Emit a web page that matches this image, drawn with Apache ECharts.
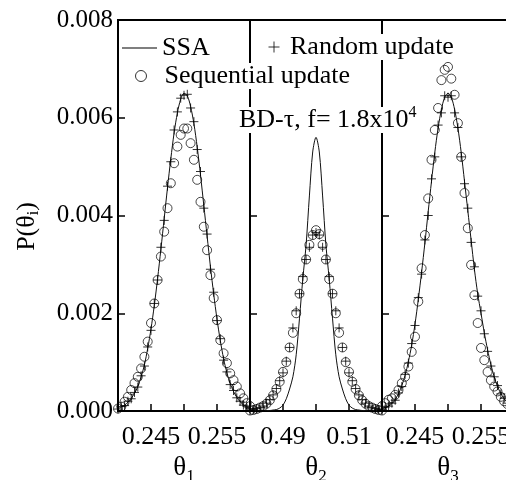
<!DOCTYPE html>
<html><head><meta charset="utf-8">
<script src="https://cdn.jsdelivr.net/npm/echarts@6/dist/echarts.min.js"></script>
<style>html,body{margin:0;padding:0;background:#fff}#c{width:506px;height:480px}</style>
</head><body><div id="c"></div>
<script>
// theta grids
const theta13 = [0.2400,0.2405,0.2410,0.2415,0.2420,0.2425,0.2430,0.2435,0.2440,0.2445,0.2450,0.2455,0.2460,0.2465,0.2470,0.2475,0.2480,0.2485,0.2490,0.2495,0.2500,0.2505,0.2510,0.2515,0.2520,0.2525,0.2530,0.2535,0.2540,0.2545,0.2550,0.2555,0.2560,0.2565,0.2570,0.2575,0.2580,0.2585,0.2590,0.2595,0.2600];
const theta2 = [0.480,0.481,0.482,0.483,0.484,0.485,0.486,0.487,0.488,0.489,0.490,0.491,0.492,0.493,0.494,0.495,0.496,0.497,0.498,0.499,0.500,0.501,0.502,0.503,0.504,0.505,0.506,0.507,0.508,0.509,0.510,0.511,0.512,0.513,0.514,0.515,0.516,0.517,0.518,0.519,0.520];

// panel 1 (theta_1)
const ssa1 = [0.00005,0.00008,0.00012,0.00018,0.00026,0.00036,0.0005,0.0007,0.00094,0.00128,0.00168,0.00216,0.00271,0.00331,0.00394,0.00457,0.00516,0.00569,0.0061,0.00638,0.0065,0.00645,0.00623,0.00588,0.0054,0.00483,0.00421,0.00358,0.00296,0.00239,0.00188,0.00144,0.00107,0.00078,0.00056,0.0004,0.00028,0.00019,0.00013,0.00009,0.00006];
const rand1 = [0.00004,0.00009,0.00011,0.0002,0.00025,0.00038,0.00049,0.00072,0.00092,0.00131,0.00165,0.0022,0.00268,0.00335,0.0039,0.0046,0.0051,0.00575,0.00612,0.0064,0.00646,0.00648,0.0062,0.00592,0.00535,0.0049,0.00415,0.00362,0.0029,0.00243,0.00185,0.00148,0.00104,0.0008,0.00054,0.00042,0.00027,0.0002,0.00012,0.0001,0.00005];
const seq1 = [0.00005,0.00009,0.00019,0.00029,0.00043,0.00057,0.0007,0.00087,0.00111,0.00142,0.0018,0.0022,0.00268,0.00316,0.00367,0.00415,0.00466,0.00507,0.00541,0.00565,0.00578,0.00578,0.00548,0.00514,0.00473,0.00428,0.00377,0.00329,0.00278,0.00231,0.00186,0.00145,0.00118,0.00098,0.00077,0.00063,0.0005,0.00036,0.00026,0.00016,0.0001];

// panel 2 (theta_2)
const ssa2 = [0.00001,0.00001,0.00001,0.00001,0.00001,0.00001,0.00001,0.00002,0.00003,0.00006,0.00012,0.00025,0.00045,0.0007,0.00115,0.0019,0.0027,0.0034,0.0044,0.0053,0.0056,0.0053,0.0044,0.0034,0.0027,0.0019,0.00115,0.0007,0.00045,0.00025,0.00012,0.00006,0.00003,0.00002,0.00001,0.00001,0.00001,0.00001,0.00001,0.00001,0.00001];
const rand2 = [0.00001,0.00003,0.00005,0.00007,0.0001,0.00016,0.00023,0.00033,0.00046,0.00062,0.00078,0.00102,0.0013,0.0017,0.00205,0.0024,0.00275,0.0031,0.00335,0.0036,0.00365,0.0036,0.00335,0.0031,0.00275,0.0024,0.00205,0.0017,0.0013,0.00102,0.00078,0.00062,0.00046,0.00033,0.00023,0.00016,0.0001,0.00007,0.00005,0.00003,0.00001];
const seq2 = [0.00001,0.00002,0.00004,0.00007,0.0001,0.00015,0.00022,0.00032,0.00045,0.0006,0.0008,0.001,0.0013,0.0016,0.002,0.0024,0.0027,0.0031,0.0034,0.0036,0.0037,0.00362,0.0034,0.0031,0.0027,0.0024,0.002,0.0016,0.0013,0.001,0.0008,0.0006,0.00045,0.00032,0.00022,0.00015,0.0001,0.00007,0.00004,0.00002,0.00001];

// panel 3 (theta_3)
const ssa3 = [0.00005,0.00007,0.0001,0.00015,0.00024,0.00035,0.00052,0.00073,0.00101,0.00135,0.00178,0.00228,0.00284,0.00344,0.00408,0.0047,0.00529,0.00579,0.00617,0.00642,0.0065,0.00642,0.00617,0.00579,0.00529,0.0047,0.0041,0.0035,0.0029,0.0024,0.002,0.0016,0.00125,0.00095,0.0007,0.0005,0.00036,0.00025,0.00017,0.00011,0.00007];
const rand3 = [0.00004,0.00008,0.0001,0.00016,0.00022,0.00037,0.0005,0.00075,0.00098,0.00138,0.00175,0.00232,0.0028,0.0035,0.004,0.00475,0.0052,0.00585,0.0061,0.00645,0.00642,0.00645,0.0061,0.0058,0.0052,0.00465,0.00415,0.00345,0.00295,0.00235,0.00205,0.00158,0.00122,0.00092,0.0007,0.00052,0.00035,0.00026,0.00016,0.00012,0.00007];
const seq3 = [0.0001,0.00016,0.00023,0.00026,0.00033,0.00043,0.00057,0.0007,0.00091,0.00121,0.00152,0.00224,0.00292,0.0036,0.00435,0.00514,0.00575,0.0062,0.00677,0.00698,0.00704,0.0068,0.00647,0.00589,0.0052,0.00446,0.00374,0.00299,0.00237,0.0018,0.00129,0.00104,0.0008,0.00063,0.0005,0.0004,0.00029,0.0002,0.00014,0.0001,0.00007];

// tick labels
const xLabels1 = ['0.245','0.255'];
const xLabels2 = ['0.49','0.51'];
const xLabels3 = ['0.245','0.255'];
const yLabels = ['0.000','0.002','0.004','0.006','0.008'];

const FONT = 'Liberation Serif';
const zip = (xs, ys) => xs.map((x, i) => [x, ys[i]]);

const chart = echarts.init(document.getElementById('c'), null, {renderer: 'canvas'});

const grids = [118, 250, 382].map(l => ({
  left: l, top: 20, width: 132, height: 391, containLabel: false, outerBoundsMode: 'none',
  show: true, borderColor: '#000', borderWidth: 2, backgroundColor: 'transparent'
}));

function xAxisCfg(idx, min, max, interval, labels, digits, sub) {
  return {
    gridIndex: idx, type: 'value', min: min, max: max, interval: interval,
    axisLine: {show: true, lineStyle: {color: '#000', width: 2}},
    axisTick: {show: true, inside: true, length: 7, lineStyle: {color: '#000', width: 1.5}},
    axisLabel: {
      show: true, margin: 13, color: '#000', fontFamily: FONT, fontSize: 26,
      showMinLabel: true, showMaxLabel: true,
      formatter: v => { const s = v.toFixed(digits); return labels.includes(s) ? s : ''; }
    },
    splitLine: {show: false},
    name: '{t|θ}{s|' + sub + '}',
    nameLocation: 'middle', nameGap: 32,
    nameTextStyle: {
      rich: {
        t: {fontFamily: FONT, fontSize: 27, color: '#000'},
        s: {fontFamily: FONT, fontSize: 17, color: '#000', padding: [16, 0, 0, 0]}
      }
    }
  };
}

function yAxisCfg(idx, showLabel) {
  const c = {
    gridIndex: idx, type: 'value', min: 0, max: 0.008, interval: 0.002,
    axisLine: {show: true, lineStyle: {color: '#000', width: 2}},
    axisTick: {show: true, inside: true, length: 7, lineStyle: {color: '#000', width: 1.5}},
    axisLabel: {
      show: showLabel, margin: 5, color: '#000', fontFamily: FONT, fontSize: 25,
      formatter: v => { const s = v.toFixed(3); return yLabels.includes(s) ? s : ''; }
    },
    splitLine: {show: false}
  };
  if (showLabel) {
    c.name = '{a|P(θ}{b|i}{a|)}';
    c.nameLocation = 'middle';
    c.nameGap = 76;
    c.nameRotate = 90;
    c.nameTextStyle = {
      padding: [0, 22, 0, 0],
      rich: {
        a: {fontFamily: FONT, fontSize: 26, color: '#000'},
        b: {fontFamily: FONT, fontSize: 16, color: '#000', padding: [14, 0, 0, 0]}
      }
    };
  }
  return c;
}

const plusPath = 'path://M0,5L10,5M5,0L5,10';
const series = [];
const panels = [[theta13, ssa1, rand1, seq1], [theta2, ssa2, rand2, seq2], [theta13, ssa3, rand3, seq3]];
panels.forEach((p, i) => {
  series.push({
    name: 'SSA', type: 'line', xAxisIndex: i, yAxisIndex: i,
    data: zip(p[0], p[1]), showSymbol: false, symbol: 'none', smooth: 0.3,
    itemStyle: {color: '#000'},
    lineStyle: {color: '#111', width: 1}, clip: false, z: 2
  });
  series.push({
    name: 'Random update', type: 'scatter', xAxisIndex: i, yAxisIndex: i,
    data: zip(p[0], p[2]), symbol: plusPath, symbolSize: 9,
    itemStyle: {color: 'rgba(0,0,0,0)', borderColor: '#000', borderWidth: 1}, clip: false, z: 3
  });
  series.push({
    name: 'Sequential update', type: 'scatter', xAxisIndex: i, yAxisIndex: i,
    data: zip(p[0], p[3]), symbol: 'circle', symbolSize: 9,
    itemStyle: {color: 'rgba(0,0,0,0)', borderColor: '#000', borderWidth: 0.9}, clip: false, z: 3
  });
});

const legTxt = {fontFamily: FONT, fontSize: 26, color: '#000', backgroundColor: '#fff'};
const option = {
  animation: false,
  backgroundColor: '#fff',
  grid: grids,
  xAxis: [
    xAxisCfg(0, 0.24, 0.26, 0.005, xLabels1, 3, '1'),
    xAxisCfg(1, 0.48, 0.52, 0.01, xLabels2, 2, '2'),
    xAxisCfg(2, 0.24, 0.26, 0.005, xLabels3, 3, '3')
  ],
  yAxis: [yAxisCfg(0, true), yAxisCfg(1, false), yAxisCfg(2, false)],
  legend: [
    {data: [{name: 'SSA', icon: 'rect'}], left: 122, top: 35, padding: 0, itemWidth: 35, itemHeight: 1, selectedMode: false,
     itemStyle: {color: '#000', borderWidth: 0}, textStyle: legTxt},
    {data: ['Random update'], left: 268, top: 34, padding: 0, itemWidth: 22, itemHeight: 11, selectedMode: false,
     itemStyle: {color: 'rgba(0,0,0,0)', borderColor: '#000', borderWidth: 1}, textStyle: legTxt},
    {data: ['Sequential update'], left: 135, top: 63, padding: 0, itemWidth: 37, itemHeight: 11, selectedMode: false,
     itemStyle: {color: 'rgba(0,0,0,0)', borderColor: '#000', borderWidth: 1}, textStyle: legTxt}
  ],
  title: {
    text: '{a|BD-τ, f= 1.8x10}{s|4}', left: 239, top: 105, padding: 0,
    textStyle: {
      fontWeight: 'normal',
      rich: {
        a: {fontFamily: FONT, fontSize: 26, fontWeight: 'normal', color: '#000', backgroundColor: '#fff'},
        s: {fontFamily: FONT, fontSize: 16, fontWeight: 'normal', color: '#000', padding: [0, 0, 14, 0], backgroundColor: '#fff'}
      }
    }
  },
  series: series
};
chart.setOption(option);
</script>
</body></html>
